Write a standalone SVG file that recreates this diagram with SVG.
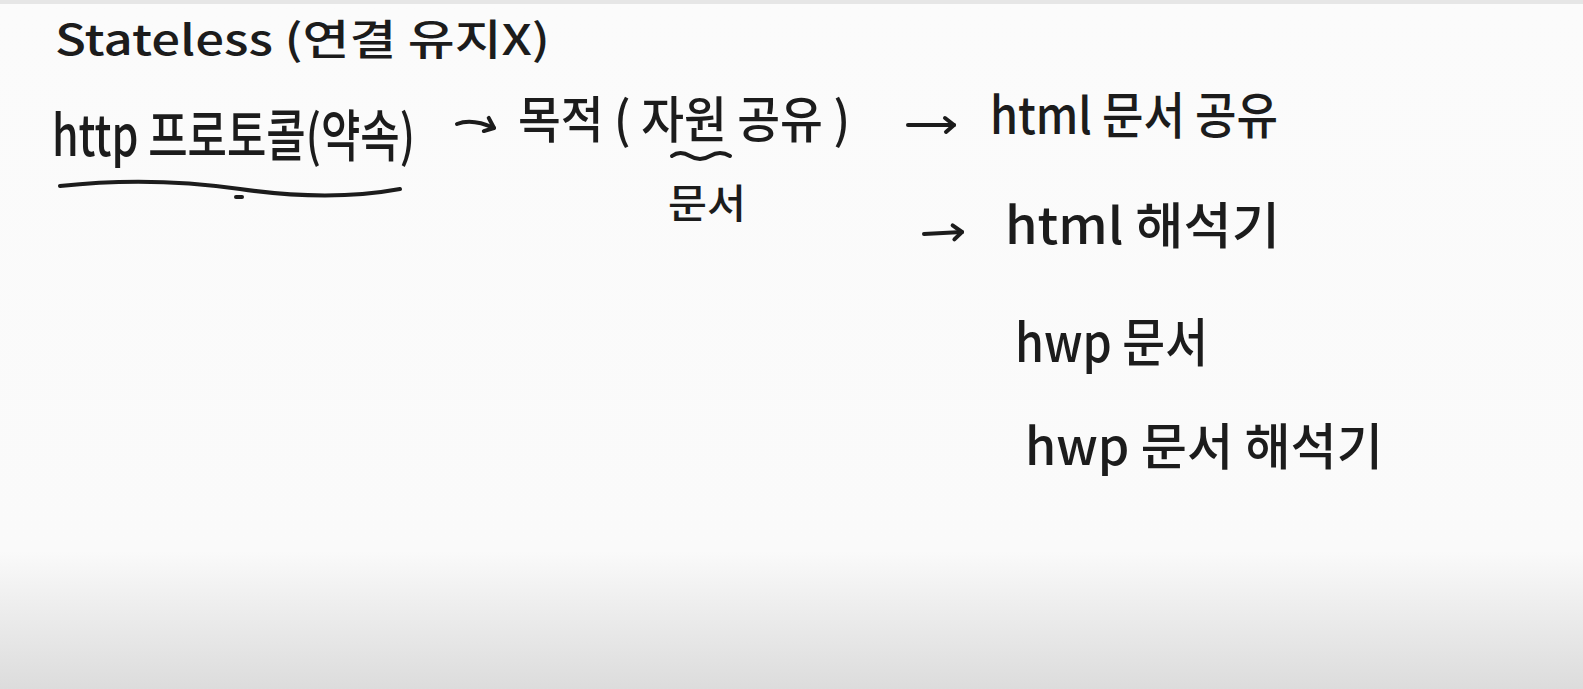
<svg xmlns="http://www.w3.org/2000/svg" width="1583" height="689" viewBox="0 0 1583 689">
<defs>
<linearGradient id="bg" x1="0" y1="0" x2="0" y2="1">
<stop offset="0" stop-color="#fbfbfb"/>
<stop offset="0.8" stop-color="#fafafa"/>
<stop offset="0.87" stop-color="#efefef"/>
<stop offset="1" stop-color="#dcdcdc"/>
</linearGradient>
<marker id="ah" markerUnits="userSpaceOnUse" markerWidth="20" markerHeight="20" refX="13" refY="10" orient="auto">
<path d="M4,3 L13,10 L5,17" fill="none" stroke="#1c1c1c" stroke-width="4" stroke-linecap="round" stroke-linejoin="round"/>
</marker>
</defs>
<style>
.t{font-family:"Noto Sans CJK KR","Noto Sans",sans-serif;fill:#1c1c1c;font-weight:500}
.ink{fill:none;stroke:#1c1c1c;stroke-width:4;stroke-linecap:round;stroke-linejoin:round}
</style>
<rect x="0" y="0" width="1583" height="689" fill="url(#bg)"/>
<rect x="0" y="0" width="1583" height="4" fill="#e6e6e6"/>
<g id="stateless"><text class="t" x="55" y="55" font-size="42" textLength="495" lengthAdjust="spacingAndGlyphs">Stateless (연결 유지X)</text></g>
<g id="http-protocol">
<text class="t" x="52" y="156" font-size="56" textLength="363" lengthAdjust="spacingAndGlyphs">http 프로토콜(약속)</text>
<path class="ink" d="M60,186 Q150,176 240,189 T400,189"/>
<path class="ink" d="M236,197 L242,197"/>
</g>
<g id="purpose">
<text class="t" x="518" y="138" font-size="50" textLength="332" lengthAdjust="spacingAndGlyphs">목적 ( 자원 공유 )</text>
<path class="ink" d="M672,156 Q680,150 690,156 T710,156 T730,156"/>
</g>
<g id="document"><text class="t" x="668" y="218" font-size="40" textLength="78" lengthAdjust="spacingAndGlyphs">문서</text></g>
<g id="html-share"><text class="t" x="990" y="134" font-size="50" textLength="288" lengthAdjust="spacingAndGlyphs">html 문서 공유</text></g>
<g id="html-interpreter"><text class="t" x="1005" y="244" font-size="50" textLength="275" lengthAdjust="spacingAndGlyphs">html 해석기</text></g>
<g id="hwp-doc"><text class="t" x="1015" y="362" font-size="52" textLength="193" lengthAdjust="spacingAndGlyphs">hwp 문서</text></g>
<g id="hwp-interpreter"><text class="t" x="1025" y="465" font-size="50" textLength="358" lengthAdjust="spacingAndGlyphs">hwp 문서 해석기</text></g>
<g id="connectors">
<path class="ink" d="M457,124 Q472,118 494,128" marker-end="url(#ah)"/>
<path class="ink" d="M908,125 L954,125" marker-end="url(#ah)"/>
<path class="ink" d="M924,234 L962,232" marker-end="url(#ah)"/>
</g>
</svg>
